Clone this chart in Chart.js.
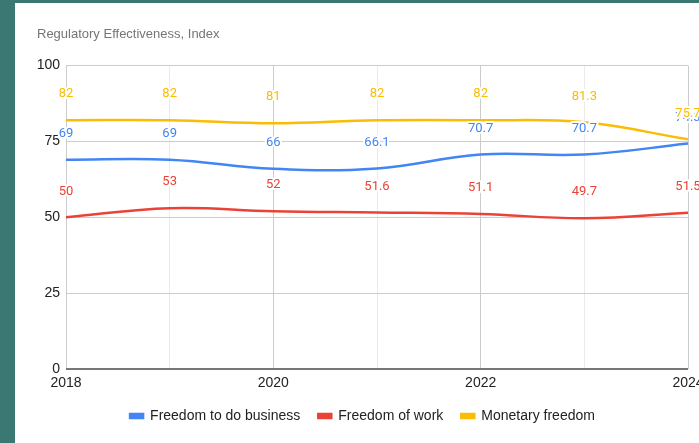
<!DOCTYPE html>
<html>
<head>
<meta charset="utf-8">
<script src="https://cdn.jsdelivr.net/npm/chart.js@4/dist/chart.umd.min.js"></script>
<style>
  html, body { margin: 0; padding: 0; width: 699px; height: 443px; overflow: hidden; background: #3b7773; }
  #card { position: absolute; left: 15px; top: 3px; width: 700px; height: 440px; background: #ffffff; }
  #c { display: block; }
</style>
</head>
<body>
<div id="card"><canvas id="c" width="700" height="440" style="width:700px;height:440px"></canvas></div>
<script>
// Years on the horizontal axis and the ones that get a label
const years = [2018, 2019, 2020, 2021, 2022, 2023, 2024];
const labeledYears = [2018, 2020, 2022, 2024];
const yTickValues = [0, 25, 50, 75, 100];

// Index values per year
const freedomToDoBusiness = [69, 69, 66, 66.1, 70.7, 70.7, 74.3];
const freedomOfWork = [50, 53, 52, 51.6, 51.1, 49.7, 51.5];
const monetaryFreedom = [82, 82, 81, 82, 82, 81.3, 75.7];

const seriesNames = ['Freedom to do business', 'Freedom of work', 'Monetary freedom'];
const seriesColors = ['#4285f4', '#ea4335', '#fbbc04'];
const seriesValues = [freedomToDoBusiness, freedomOfWork, monetaryFreedom];

const tickFont = "'Liberation Sans', Arial, sans-serif";

// Value annotations above each point, with a white halo
const valueLabels = {
  id: 'valueLabels',
  afterDatasetsDraw(chart) {
    const ctx = chart.ctx;
    ctx.save();
    ctx.font = "13px Roboto, 'Liberation Sans', Arial, sans-serif";
    ctx.textAlign = 'center';
    ctx.textBaseline = 'middle';
    ctx.lineJoin = 'round';
    chart.data.datasets.forEach((ds, di) => {
      const meta = chart.getDatasetMeta(di);
      meta.data.forEach((pt, i) => {
        const text = String(ds.data[i].y);
        const y = pt.y - 26;
        ctx.lineWidth = 4;
        ctx.strokeStyle = '#ffffff';
        ctx.strokeText(text, pt.x, y);
        ctx.fillStyle = ds.borderColor;
        ctx.fillText(text, pt.x, y);
      });
    });
    ctx.restore();
  }
};

const datasets = seriesNames.map((name, s) => ({
  label: name,
  data: years.map((yr, i) => ({ x: yr, y: seriesValues[s][i] })),
  borderColor: seriesColors[s],
  backgroundColor: seriesColors[s],
  borderWidth: 2.5,
  pointRadius: 0,
  pointHoverRadius: 0,
  tension: 0.4,
  fill: false
}));

new Chart(document.getElementById('c'), {
  type: 'line',
  data: { datasets },
  plugins: [valueLabels],
  options: {
    responsive: false,
    animation: false,
    events: [],
    layout: { padding: { left: 22, right: 27, top: 0, bottom: 10 } },
    plugins: {
      title: {
        display: true,
        text: 'Regulatory Effectiveness, Index',
        align: 'start',
        color: '#757575',
        font: { family: tickFont, size: 13, weight: 'normal' },
        padding: { top: 24, bottom: 23 }
      },
      legend: {
        position: 'bottom',
        labels: {
          boxWidth: 13,
          boxHeight: 4,
          padding: 18,
          color: '#222222',
          font: { family: tickFont, size: 14 }
        }
      },
      tooltip: { enabled: false }
    },
    scales: {
      x: {
        type: 'linear',
        min: years[0],
        max: years[years.length - 1],
        afterBuildTicks(scale) { scale.ticks = years.map(v => ({ value: v })); },
        afterFit(scale) { scale.height = 22; },
        ticks: {
          autoSkip: false,
          maxRotation: 0,
          padding: 6,
          color: '#222222',
          font: { family: tickFont, size: 14 },
          callback: v => labeledYears.includes(v) ? String(v) : ''
        },
        grid: {
          drawTicks: false,
          color: c => labeledYears.includes(c.tick && c.tick.value) ? '#cccccc' : '#ebebeb',
          lineWidth: 1
        },
        border: { display: false }
      },
      y: {
        min: 0,
        max: 100,
        afterBuildTicks(scale) { scale.ticks = yTickValues.map(v => ({ value: v })); },
        afterFit(scale) { scale.width = 29; },
        ticks: {
          padding: 6,
          color: '#222222',
          font: { family: tickFont, size: 14 }
        },
        grid: {
          drawTicks: false,
          color: c => (c.tick && c.tick.value === 0) ? '#777777' : '#cccccc',
          lineWidth: c => (c.tick && c.tick.value === 0) ? 2 : 1
        },
        border: { display: false }
      }
    }
  }
});
</script>
</body>
</html>
